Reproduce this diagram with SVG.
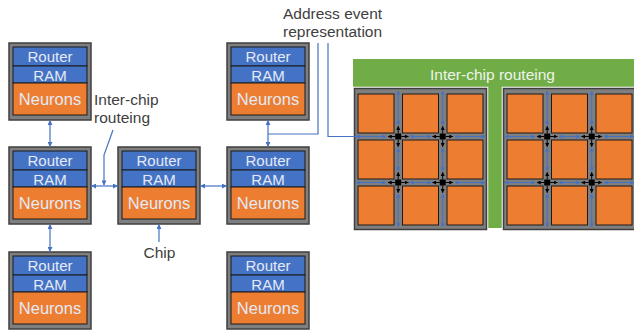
<svg xmlns="http://www.w3.org/2000/svg" width="634" height="333" viewBox="0 0 634 333">
<style>
.shell{fill:#7f7f7f;stroke:#3f3f3f;stroke-width:1.5}
.blue{fill:#4472c4;stroke:#1a1a1a;stroke-width:1}
.orange{fill:#ed7d31;stroke:#1a1a1a;stroke-width:1}
.ct{font-family:"Liberation Sans",Arial,sans-serif;fill:#e4eaf6;text-anchor:middle}
.lbl{font-family:"Liberation Sans",Arial,sans-serif;font-size:15.5px;fill:#404040}
.conn{fill:none;stroke:#4472c4;stroke-width:1.2}
.ga{fill:none;stroke:#4472c4;stroke-width:1}
.ka{fill:none;stroke:#000;stroke-width:1}
.sq{fill:#ed7d31;stroke:#1a1a1a;stroke-width:1}
.rt{fill:#000}
</style>
<defs>
<marker id="ab" viewBox="0 0 6 6" refX="5.5" refY="3" markerWidth="5" markerHeight="5" markerUnits="userSpaceOnUse" orient="auto-start-reverse"><path d="M0,0L6,3L0,6z" fill="#4472c4"/></marker>
<marker id="ag" viewBox="0 0 6 6" refX="5.5" refY="3" markerWidth="4" markerHeight="4" markerUnits="userSpaceOnUse" orient="auto-start-reverse"><path d="M0,0L6,3L0,6z" fill="#4472c4"/></marker>
<marker id="ak" viewBox="0 0 6 6" refX="5.5" refY="3" markerWidth="4" markerHeight="4" markerUnits="userSpaceOnUse" orient="auto-start-reverse"><path d="M0,0L6,3L0,6z" fill="#000"/></marker>
<g id="chipShape">
<rect class="shell" x="0" y="0" width="82" height="77"/>
<rect class="blue" x="4" y="4" width="74" height="19"/>
<rect class="blue" x="4" y="23" width="74" height="17"/>
<rect class="orange" x="4" y="40" width="74" height="32"/>
<text class="ct" x="41" y="19.3" font-size="15">Router</text>
<text class="ct" x="41" y="37.5" font-size="15">RAM</text>
<text class="ct" x="41" y="61.5" font-size="16.5">Neurons</text>
</g>
<g id="gridShape">
<rect x="0" y="0" width="133" height="142" fill="none" stroke="#ffffff" stroke-width="2.5"/>
<rect class="shell" x="0.5" y="0.5" width="132" height="141"/>
<rect class="sq" x="4" y="6" width="36" height="39"/>
<rect class="sq" x="48.5" y="6" width="36" height="39"/>
<rect class="sq" x="93" y="6" width="36" height="39"/>
<rect class="sq" x="4" y="52" width="36" height="39"/>
<rect class="sq" x="48.5" y="52" width="36" height="39"/>
<rect class="sq" x="93" y="52" width="36" height="39"/>
<rect class="sq" x="4" y="98" width="36" height="39"/>
<rect class="sq" x="48.5" y="98" width="36" height="39"/>
<rect class="sq" x="93" y="98" width="36" height="39"/>
<g class="ga" marker-start="url(#ag)" marker-end="url(#ag)">
<line x1="2" y1="48.5" x2="32" y2="48.5"/>
<line x1="56" y1="48.5" x2="77" y2="48.5"/>
<line x1="101" y1="48.5" x2="131" y2="48.5"/>
<line x1="2" y1="94.5" x2="32" y2="94.5"/>
<line x1="56" y1="94.5" x2="77" y2="94.5"/>
<line x1="101" y1="94.5" x2="131" y2="94.5"/>
<line x1="44.2" y1="3" x2="44.2" y2="37"/>
<line x1="44.2" y1="60" x2="44.2" y2="83"/>
<line x1="44.2" y1="106" x2="44.2" y2="139"/>
<line x1="88.7" y1="3" x2="88.7" y2="37"/>
<line x1="88.7" y1="60" x2="88.7" y2="83"/>
<line x1="88.7" y1="106" x2="88.7" y2="139"/>
</g>
<g class="ka" marker-end="url(#ak)">
<line x1="41.2" y1="48.5" x2="34" y2="48.5"/><line x1="47.2" y1="48.5" x2="54.4" y2="48.5"/><line x1="44.2" y1="45.5" x2="44.2" y2="38.3"/><line x1="44.2" y1="51.5" x2="44.2" y2="58.7"/>
<line x1="85.7" y1="48.5" x2="78.5" y2="48.5"/><line x1="91.7" y1="48.5" x2="98.9" y2="48.5"/><line x1="88.7" y1="45.5" x2="88.7" y2="38.3"/><line x1="88.7" y1="51.5" x2="88.7" y2="58.7"/>
<line x1="41.2" y1="94.5" x2="34" y2="94.5"/><line x1="47.2" y1="94.5" x2="54.4" y2="94.5"/><line x1="44.2" y1="91.5" x2="44.2" y2="84.3"/><line x1="44.2" y1="97.5" x2="44.2" y2="104.7"/>
<line x1="85.7" y1="94.5" x2="78.5" y2="94.5"/><line x1="91.7" y1="94.5" x2="98.9" y2="94.5"/><line x1="88.7" y1="91.5" x2="88.7" y2="84.3"/><line x1="88.7" y1="97.5" x2="88.7" y2="104.7"/>
</g>
<rect class="rt" x="41.2" y="45.5" width="6" height="6"/>
<rect class="rt" x="85.7" y="45.5" width="6" height="6"/>
<rect class="rt" x="41.2" y="91.5" width="6" height="6"/>
<rect class="rt" x="85.7" y="91.5" width="6" height="6"/>
</g>
</defs>
<rect width="634" height="333" fill="#ffffff"/>

<g id="chip-top-left"><use href="#chipShape" transform="translate(9,43)"/></g>
<g id="chip-mid-left"><use href="#chipShape" transform="translate(9,147)"/></g>
<g id="chip-center"><use href="#chipShape" transform="translate(118,147)"/></g>
<g id="chip-top-right"><use href="#chipShape" transform="translate(227,43)"/></g>
<g id="chip-mid-right"><use href="#chipShape" transform="translate(227,147)"/></g>
<g id="chip-bottom-left"><use href="#chipShape" transform="translate(9,252)"/></g>
<g id="chip-bottom-right"><use href="#chipShape" transform="translate(227,252)"/></g>

<g id="inter-chip-band">
<rect x="353" y="59" width="281" height="28" fill="#70ad47"/>
<rect x="487" y="87" width="16" height="141" fill="#70ad47"/>
<text x="430" y="79.5" font-family="Liberation Sans, Arial, sans-serif" font-size="15.5" fill="#eef4ea">Inter-chip routeing</text>
</g>
<g id="grid-1"><use href="#gridShape" transform="translate(354,88)"/></g>
<g id="grid-2"><use href="#gridShape" transform="translate(503,88)"/></g>

<g id="connectors">
<line class="conn" x1="50" y1="120.5" x2="50" y2="146.5" marker-start="url(#ab)" marker-end="url(#ab)"/>
<line class="conn" x1="50" y1="224.5" x2="50" y2="251.5" marker-start="url(#ab)" marker-end="url(#ab)"/>
<line class="conn" x1="91.5" y1="186" x2="117.5" y2="186" marker-start="url(#ab)" marker-end="url(#ab)"/>
<line class="conn" x1="200.5" y1="186" x2="226.5" y2="186" marker-start="url(#ab)" marker-end="url(#ab)"/>
<line class="conn" x1="268" y1="120.5" x2="268" y2="146.5" marker-start="url(#ab)" marker-end="url(#ab)"/>
<polyline class="conn" points="113,130 104,155 104,185" marker-end="url(#ab)"/>
<line class="conn" x1="159" y1="242" x2="159" y2="224.5" marker-end="url(#ab)"/>
<polyline class="conn" points="318,43 318,134 268,134"/>
<polyline class="conn" points="328,43 328,136.5 357,136.5"/>
</g>

<g id="labels">
<text class="lbl" x="94" y="105">Inter-chip</text>
<text class="lbl" x="94" y="122.5">routeing</text>
<text class="lbl" x="159.5" y="258" text-anchor="middle">Chip</text>
<text class="lbl" x="283" y="19">Address event</text>
<text class="lbl" x="283" y="37">representation</text>
</g>
</svg>
